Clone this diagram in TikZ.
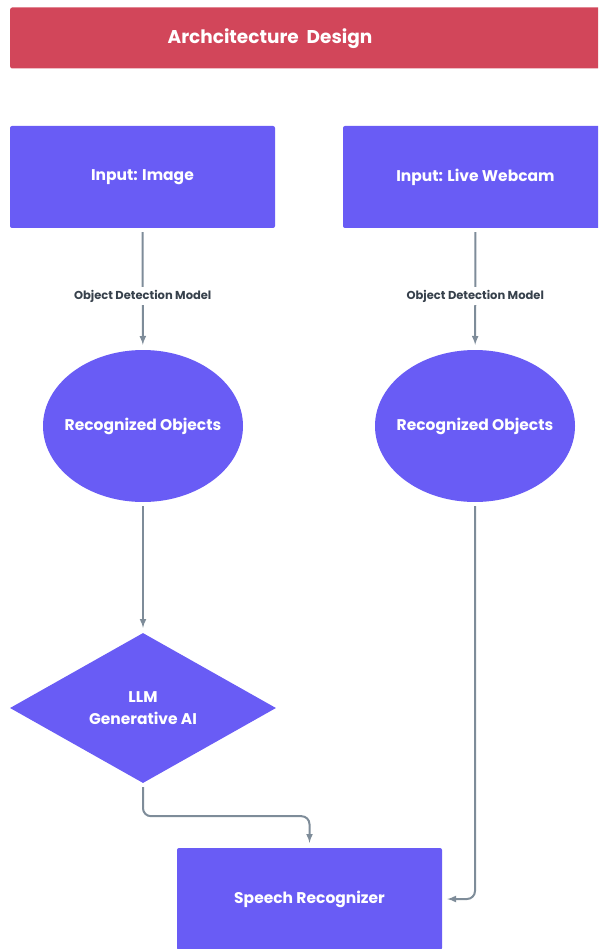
\documentclass[tikz,border=0pt]{standalone}
\usepackage{fontspec}
\setmainfont{Poppins}
\usetikzlibrary{shapes.geometric}
\usetikzlibrary{arrows}
\usetikzlibrary{positioning}

\definecolor{violet}{HTML}{695CF5}
\definecolor{rose}{HTML}{D2465A}
\definecolor{wire}{HTML}{7E8C99}
\definecolor{ink}{HTML}{37414C}

% text that does not widen its shape
\newcommand{\nowide}[1]{\hbox to 0pt{\hss#1\hss}}

\begin{document}
\begin{tikzpicture}[x=1pt,y=-1pt,
  box/.style={rectangle, fill=violet, rounded corners=2pt, minimum width=265pt,
    minimum height=102pt, text=white, font=\bfseries\fontsize{15.5}{18}\selectfont},
  blob/.style={ellipse, fill=violet, minimum width=200pt, minimum height=152pt,
    inner sep=0pt, text=white, font=\bfseries\fontsize{15.5}{18}\selectfont},
  rhomb/.style={diamond, fill=violet, aspect=1.77, inner sep=0pt, minimum width=266pt,
    minimum height=150pt, text=white, align=center, font=\bfseries\fontsize{15.5}{22}\selectfont},
  wire/.style={draw=wire, line width=2pt, -latex, shorten <=4pt, shorten >=5pt},
  tag/.style={fill=white, text=ink, inner sep=3pt, font=\bfseries\fontsize{11.5}{13}\selectfont}
]
\useasboundingbox (0,0) rectangle (598,949);
\clip (0,0) rectangle (598,949);

\node[fill=rose, rounded corners=2pt, minimum width=620pt, minimum height=61pt,
  anchor=west] (title) at (10,38) {};
\node[text=white, font=\bfseries\fontsize{18.5}{20}\selectfont] (titletxt) at (270,39)
  {Archcitecture~~Design};

\node[box] (img) at (142.5,177) {Input: Image};
\node[box] (cam) at (475.5,177) {Input: Live Webcam};
\node[blob] (obj1) at (143,426) {\nowide{Recognized Objects}};
\node[blob] (obj2) at (475,426) {\nowide{Recognized Objects}};
\node[rhomb] (llm) at (143,708) {LLM\\Generative AI};
\node[box] (speech) at (309.5,899) {Speech Recognizer};

\draw[wire] (img) -- node[tag, pos=0.56]{Object Detection Model} (obj1);
\draw[wire] (cam) -- node[tag, pos=0.56]{Object Detection Model} (obj2);
\draw[wire] (obj1) -- (llm);
\draw[wire, rounded corners=8pt] (llm.south) -- ++(0,33) -| (speech.north);
\draw[wire, rounded corners=8pt] (obj2.south) |- (speech.east);
\end{tikzpicture}
\end{document}
